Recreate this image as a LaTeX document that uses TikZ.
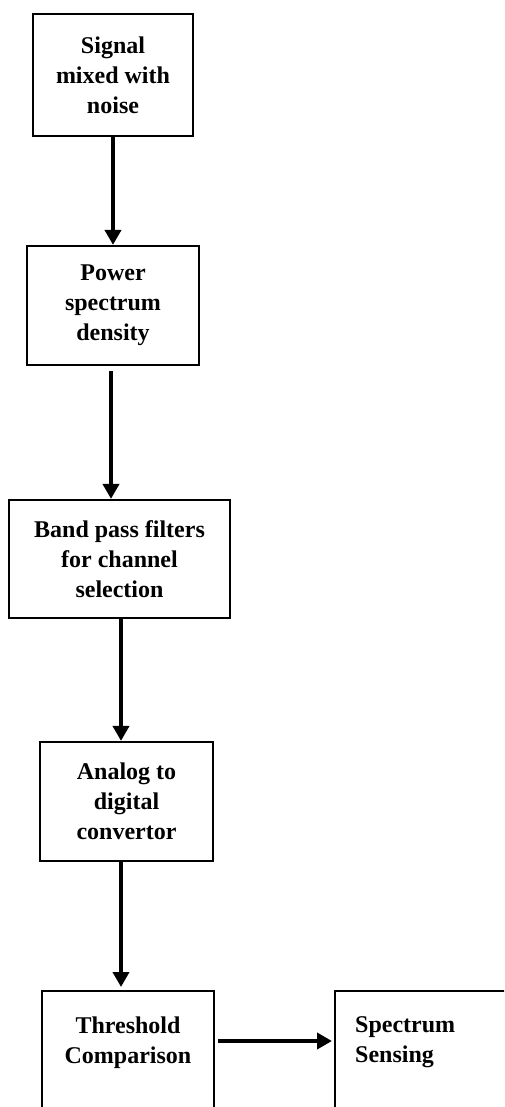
\documentclass[tikz,border=0pt]{standalone}
\usepackage{fontspec}
\setmainfont{Liberation Serif}
\usetikzlibrary{arrows.meta}
\begin{document}
\begin{tikzpicture}[x=1pt,y=1pt,
  box/.style={draw=black, line width=2.2pt, rectangle, inner sep=0pt, align=center,
    font=\bfseries\fontsize{24}{30}\selectfont},
  lbl/.style={inner sep=0pt, font=\bfseries\fontsize{24}{30}\selectfont},
  arr/.style={line width=4pt, -{Triangle[length=15pt,width=16pt]}}]
\path[use as bounding box, clip] (0,0) rectangle (504,-1107);
\node[box, minimum width=160pt, minimum height=122pt] (n1) at (113,-75) {Signal\\mixed with\\noise};
\node[box, minimum width=172pt, minimum height=119pt] (n2) at (113,-305.5) {Power\\spectrum\\density};
\node[box, minimum width=221pt, minimum height=118pt] (n3) at (119.5,-559) {Band pass filters\\for channel\\selection};
\node[box, minimum width=173pt, minimum height=119pt] (n4) at (126.5,-801.5) {Analog to\\digital\\convertor};
\node[box, minimum width=172pt, minimum height=200pt, anchor=north] (n5) at (128,-990) {};
\node[box, minimum width=260pt, minimum height=200pt, anchor=north west] (n6) at (334,-990) {};
\node[lbl, align=center, anchor=north] (t5) at (128,-1016.5) {Threshold\\Comparison};
\node[lbl, align=left, anchor=north west] (t6) at (355,-1016.5) {Spectrum\\Sensing};
\draw[arr] (n1.south) -- (n2.north);
\draw[arr] ([yshift=-5pt]n2.south -| 111,0) -- (n3.north -| 111,0);
\draw[arr] (n3.south -| 121,0) -- (n4.north -| 121,0);
\draw[arr] (n4.south -| 121,0) -- ([yshift=3pt]n5.north -| 121,0);
\draw[arr] ([xshift=3pt]n5.east |- 0,-1041) -- ([xshift=-2pt]n6.west |- 0,-1041);
\end{tikzpicture}
\end{document}
